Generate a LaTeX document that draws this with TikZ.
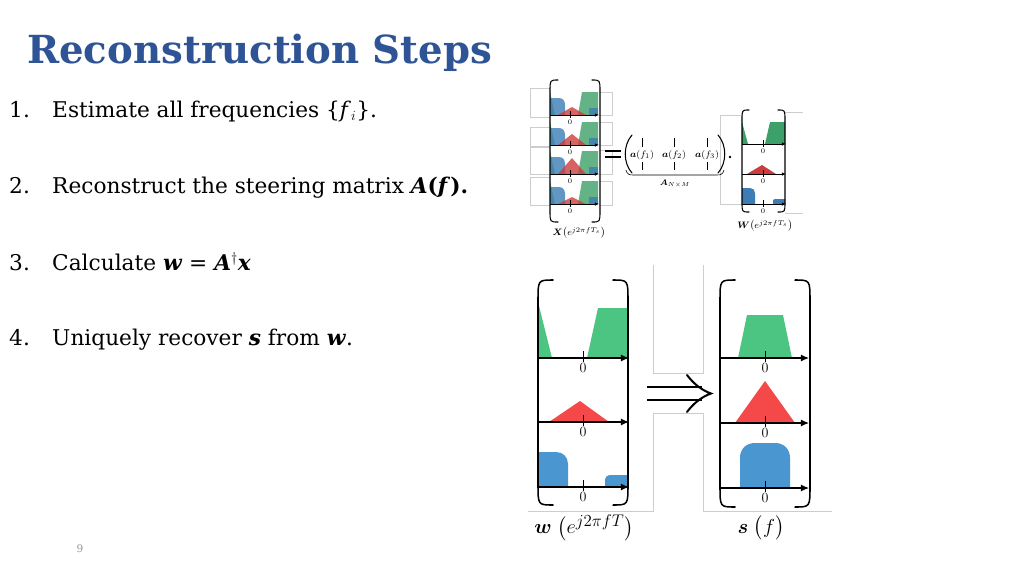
\documentclass[tikz,border=0pt]{standalone}
\usepackage{amsmath}
\usepackage{fontspec}
\setmainfont{DejaVu Serif}
\usetikzlibrary{arrows.meta}
\definecolor{titleblue}{RGB}{46,84,150}
\definecolor{sgreen}{RGB}{76,196,130}
\definecolor{sred}{RGB}{245,72,72}
\definecolor{sblue}{RGB}{74,150,208}
\definecolor{dgreen}{RGB}{62,160,105}
\definecolor{dred}{RGB}{205,60,60}
\definecolor{dblue}{RGB}{60,125,180}
\definecolor{ggray}{RGB}{205,205,205}
\definecolor{pgray}{RGB}{150,150,150}
\newcommand\mybrack[6]{%
  \draw[#6] ({#1+#5},#3) .. controls (#1,#3) and (#1,#3) .. (#1,{#3+1.4*#5}) -- (#1,{#4-1.4*#5}) .. controls (#1,#4) and (#1,#4) .. ({#1+#5},#4);
  \draw[#6] ({#2-#5},#3) .. controls (#2,#3) and (#2,#3) .. (#2,{#3+1.4*#5}) -- (#2,{#4-1.4*#5}) .. controls (#2,#4) and (#2,#4) .. ({#2-#5},#4);
}
\begin{document}
\begin{tikzpicture}[x=0.03cm,y=-0.03cm,
  brk/.style={line width=1.3pt, line cap=round},
  brks/.style={line width=0.9pt, line cap=round},
  axisb/.style={line width=0.9pt, -{Latex[length=7pt,width=6pt]}},
  axiss/.style={line width=0.6pt, -{Latex[length=3.5pt,width=3pt]}},
  tickb/.style={line width=0.8pt},
  ticks/.style={line width=0.5pt},
  zerob/.style={font=\fontsize{12.5}{12.5}\selectfont, inner sep=0pt},
  zeros/.style={font=\fontsize{6.5}{6.5}\selectfont, inner sep=0pt},
  grayline/.style={draw=ggray, line width=0.6pt},
  item/.style={anchor=base west, inner sep=0pt, font=\fontsize{18.5}{21}\selectfont},
  biglab/.style={font=\fontsize{19}{22}\selectfont, inner sep=0pt},
  ov/.style={opacity=0.8}
]
\useasboundingbox (0,0) rectangle (1024,576);
\fill[white] (0,0) rectangle (1024,576);

% ---------- text ----------
\node[anchor=base west, inner sep=0pt, text=titleblue, font=\fontsize{33}{38}\selectfont\bfseries] (title) at (27,63) {Reconstruction Steps};
\node[item] (n1) at (9,117) {1.};
\node[item] (t1) at (52,117) {Estimate all frequencies \{\textit{f}$_{i}$\}.};
\node[item] (n2) at (9,193) {2.};
\node[item] (t2) at (52,193) {Reconstruct the steering matrix \textbf{\textit{A}(\textit{f}).}};
\node[item] (n3) at (9,270) {3.};
\node[item] (t3) at (52,270) {Calculate \textbf{\textit{w}} = \textbf{\textit{A}}$^{\dagger}$\textbf{\textit{x}}};
\node[item] (n4) at (9,345) {4.};
\node[item] (t4) at (52,345) {Uniquely recover \textbf{\textit{s}} from \textbf{\textit{w}}.};
\node[font=\fontsize{9}{9}\selectfont, text=pgray] (pg) at (80,549) {9};

% ---------- top figure: gray artefacts ----------
\foreach \t/\b in {88/117,127/146,147/174,177/205}{\draw[grayline] (550,\t) -- (530,\t) -- (530,\b) -- (550,\b);}
\foreach \t/\b in {92/115,122/145,150/174,181/205}{\draw[grayline] (600,\t) -- (612,\t) -- (612,\b) -- (600,\b);}
\draw[grayline] (742,115) -- (720,115) -- (720,204) -- (742,204);
\draw[grayline] (785,112) -- (803,112);
\draw[grayline] (785,213) -- (803,213);

% ---------- X matrix ----------
\foreach \a/\h in {115/8,145/11,174/16,204/7}{
  \fill[dgreen,ov] (550,\a-23) -- (555,\a) -- (550,\a) -- cycle;
  \fill[dgreen,ov] (578,\a) -- (582,\a-23) -- (598,\a-23) -- (598,\a) -- cycle;
  \fill[dblue,ov] (550,\a) -- (550,\a-17) -- (559,\a-17) .. controls (563,\a-17) and (565,\a-14) .. (565,\a-10) -- (565,\a) -- cycle;
  \fill[dred,ov] (558,\a) -- (572,\a-\h) -- (586,\a) -- cycle;
  \fill[dblue,ov] (589,\a) -- (589,\a-7) -- (598,\a-7) -- (598,\a) -- cycle;
  \draw[axiss] (550,\a) -- (599,\a);
  \draw[ticks] (570,\a-4) -- (570,\a+3);
  \node[zeros] at (570,\a+7.5) {$0$};
}
\mybrack{550}{600}{80}{222}{8}{brks}
\node[font=\fontsize{8}{9}\selectfont, inner sep=0pt] (xl) at (579,233) {$\boldsymbol{X}\bigl(e^{j2\pi fT_s}\bigr)$};

% equals
\draw[line width=1.2pt] (605,151) -- (621,151) (605,157) -- (621,157);

% ---------- A matrix ----------
\draw[brks] (632,135) .. controls (623,145) and (623,163) .. (632,173);
\draw[brks] (718,135) .. controls (727,145) and (727,163) .. (718,173);
\foreach \x/\k in {642/1,674/2,707/3}{
  \draw[line width=0.5pt] (\x,138) -- (\x,147) (\x,162) -- (\x,170);
  \node[font=\fontsize{8.5}{9}\selectfont, inner sep=0pt] at (\x,155) {$\boldsymbol{a}(f_{\k})$};
}
\draw[line width=0.5pt] (626,170) .. controls (627,174) and (629,175) .. (633,175) -- (717,175) .. controls (721,175) and (723,174) .. (724,170);
\node[font=\fontsize{7}{8}\selectfont, inner sep=0pt] (al) at (675,184) {$\boldsymbol{A}_{N\times M}$};
\fill (730,157) circle (1.4);

% ---------- W matrix ----------
\fill[dgreen] (742,122) -- (748,144) -- (742,144) -- cycle;
\fill[dgreen] (765,144) -- (770,122) -- (785,122) -- (785,144) -- cycle;
\fill[dred] (747,174) -- (762,165) -- (776,174) -- cycle;
\fill[dblue] (742,204) -- (742,188) -- (750,188) .. controls (753,188) and (755,190) .. (755,193) -- (755,204) -- cycle;
\fill[dblue] (773,204) -- (773,201) .. controls (773,200) and (774,199) .. (775,199) -- (785,199) -- (785,204) -- cycle;
\foreach \a in {144,174,204}{
  \draw[axiss] (742,\a) -- (786,\a);
  \draw[ticks] (763,\a-4) -- (763,\a+3);
  \node[zeros] at (763,\a+7.5) {$0$};
}
\mybrack{742}{785}{110}{212}{7}{brks}
\node[font=\fontsize{8}{9}\selectfont, inner sep=0pt] (wl) at (765,226) {$\boldsymbol{W}\bigl(e^{j2\pi fT_s}\bigr)$};

% ---------- bottom figure: gray artefacts ----------
\draw[grayline] (653,265) -- (653,373) -- (703,373) -- (703,265);
\draw[grayline] (528,511) -- (653,511) -- (653,413) -- (703,413) -- (703,511) -- (832,511);

% ---------- w matrix ----------
\fill[sgreen] (538,302) -- (552,358) -- (538,358) -- cycle;
\fill[sgreen] (587,358) -- (598,308) -- (628,308) -- (628,358) -- cycle;
\fill[sred] (549,422) -- (580,401) -- (609,422) -- cycle;
\fill[sblue] (538,487) -- (538,452) -- (556,452) .. controls (563,452) and (568,457) .. (568,464) -- (568,487) -- cycle;
\fill[sblue] (605,487) -- (605,481) .. controls (605,477) and (607,475) .. (611,475) -- (628,475) -- (628,487) -- cycle;
\foreach \a in {358,422,487}{
  \draw[axisb] (538,\a) -- (629,\a);
  \draw[tickb] (583,\a-7) -- (583,\a+4);
  \node[zerob] at (583,\a+10) {$0$};
}
\mybrack{538}{628}{280}{505}{15}{brk}
\node[biglab] (wlab) at (584,528) {$\boldsymbol{w}\;\bigl(e^{j2\pi fT}\bigr)$};

% implies arrow
\draw[line width=1.7pt] (647,387) -- (702,387) (647,400) -- (702,400);
\draw[line width=1.7pt, line cap=round, line join=miter] (687,375) .. controls (693,383) and (701,390) .. (711,393.5) .. controls (701,397) and (693,404) .. (687,412);

% ---------- s matrix ----------
\fill[sgreen] (738,358) -- (747,315) -- (783,315) -- (792,358) -- cycle;
\fill[sred] (735,423) -- (765,381) -- (795,423) -- cycle;
\fill[sblue] (740,488) -- (740,458) .. controls (740,449) and (746,443) .. (755,443) -- (775,443) .. controls (784,443) and (790,449) .. (790,458) -- (790,488) -- cycle;
\foreach \a in {358,423,488}{
  \draw[axisb] (720,\a) -- (809,\a);
  \draw[tickb] (765,\a-7) -- (765,\a+4);
  \node[zerob] at (765,\a+10) {$0$};
}
\mybrack{720}{810}{280}{507}{15}{brk}
\node[biglab] (slab) at (761,528) {$\boldsymbol{s}\;\bigl(f\bigr)$};
\end{tikzpicture}
\end{document}
